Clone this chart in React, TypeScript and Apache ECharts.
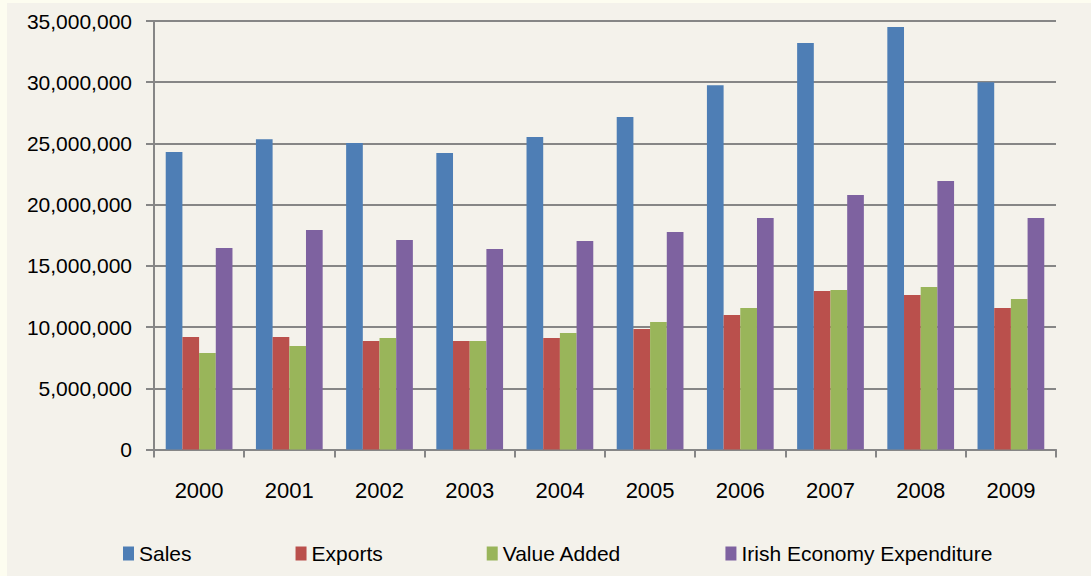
import React, { useEffect, useRef } from "react";
import * as echarts from "echarts";

const years = ["2000", "2001", "2002", "2003", "2004", "2005", "2006", "2007", "2008", "2009"];
const sales = [24300000, 25350000, 25030000, 24220000, 25520000, 27160000, 29760000, 33200000, 34500000, 29990000];
const exportsVals = [9190000, 9190000, 8860000, 8860000, 9110000, 9840000, 10990000, 12950000, 12620000, 11560000];
const valueAdded = [7880000, 8450000, 9110000, 8860000, 9520000, 10410000, 11560000, 13030000, 13270000, 12290000];
const irishExp = [16460000, 17930000, 17110000, 16380000, 17030000, 17770000, 18910000, 20790000, 21930000, 18910000];

const seriesNames = ["Sales", "Exports", "Value Added", "Irish Economy Expenditure"];
const colors = ["#4e7eb5", "#ba504c", "#99b55a", "#7e62a0"];

const FONT = "Liberation Sans";

export default function App() {
  const ref = useRef<HTMLDivElement>(null);
  useEffect(() => {
    if (!ref.current) return;
    const chart = echarts.init(ref.current, undefined, { renderer: "svg" });
    const data = [sales, exportsVals, valueAdded, irishExp];
    chart.setOption({
      animation: false,
      backgroundColor: "#fdfdf0",
      textStyle: { fontFamily: FONT },
      graphic: [
        {
          type: "rect",
          z: -10,
          shape: { x: 7, y: 3, width: 1084, height: 573 },
          style: { fill: "#f4f2eb" },
          silent: true,
        },
      ],
      grid: { left: 154, right: 35, top: 21, bottom: 126.5, containLabel: false },
      legend: {
        left: 118,
        top: 538,
        itemGap: 104,
        itemWidth: 11,
        itemHeight: 14,
        icon: "rect",
        data: seriesNames,
        textStyle: { fontFamily: FONT, fontSize: 21, color: "#000" },
      },
      xAxis: {
        type: "category",
        data: years,
        boundaryGap: true,
        axisLine: { show: true, lineStyle: { color: "#868686", width: 2 } },
        axisTick: { show: true, length: 8, lineStyle: { color: "#868686", width: 2 } },
        axisLabel: { fontFamily: FONT, fontSize: 22, color: "#000", margin: 30 },
        splitLine: { show: false },
      },
      yAxis: {
        type: "value",
        min: 0,
        max: 35000000,
        interval: 5000000,
        axisLine: { show: true, lineStyle: { color: "#868686", width: 2 } },
        axisTick: { show: true, length: 8, lineStyle: { color: "#868686", width: 2 } },
        splitLine: { show: true, lineStyle: { color: "#868686", width: 2 } },
        axisLabel: {
          fontFamily: FONT,
          fontSize: 21,
          color: "#000",
          margin: 22,
          formatter: (v: number) => v.toLocaleString("en-US"),
        },
      },
      series: seriesNames.map((name, i) => ({
        name,
        type: "bar",
        data: data[i],
        barGap: "0%",
        barCategoryGap: "26%",
        itemStyle: { color: colors[i] },
      })),
    });
    return () => chart.dispose();
  }, []);
  return (
    <div
      ref={ref}
      style={{ position: "fixed", left: 0, top: 0, width: 1091, height: 576 }}
    />
  );
}
